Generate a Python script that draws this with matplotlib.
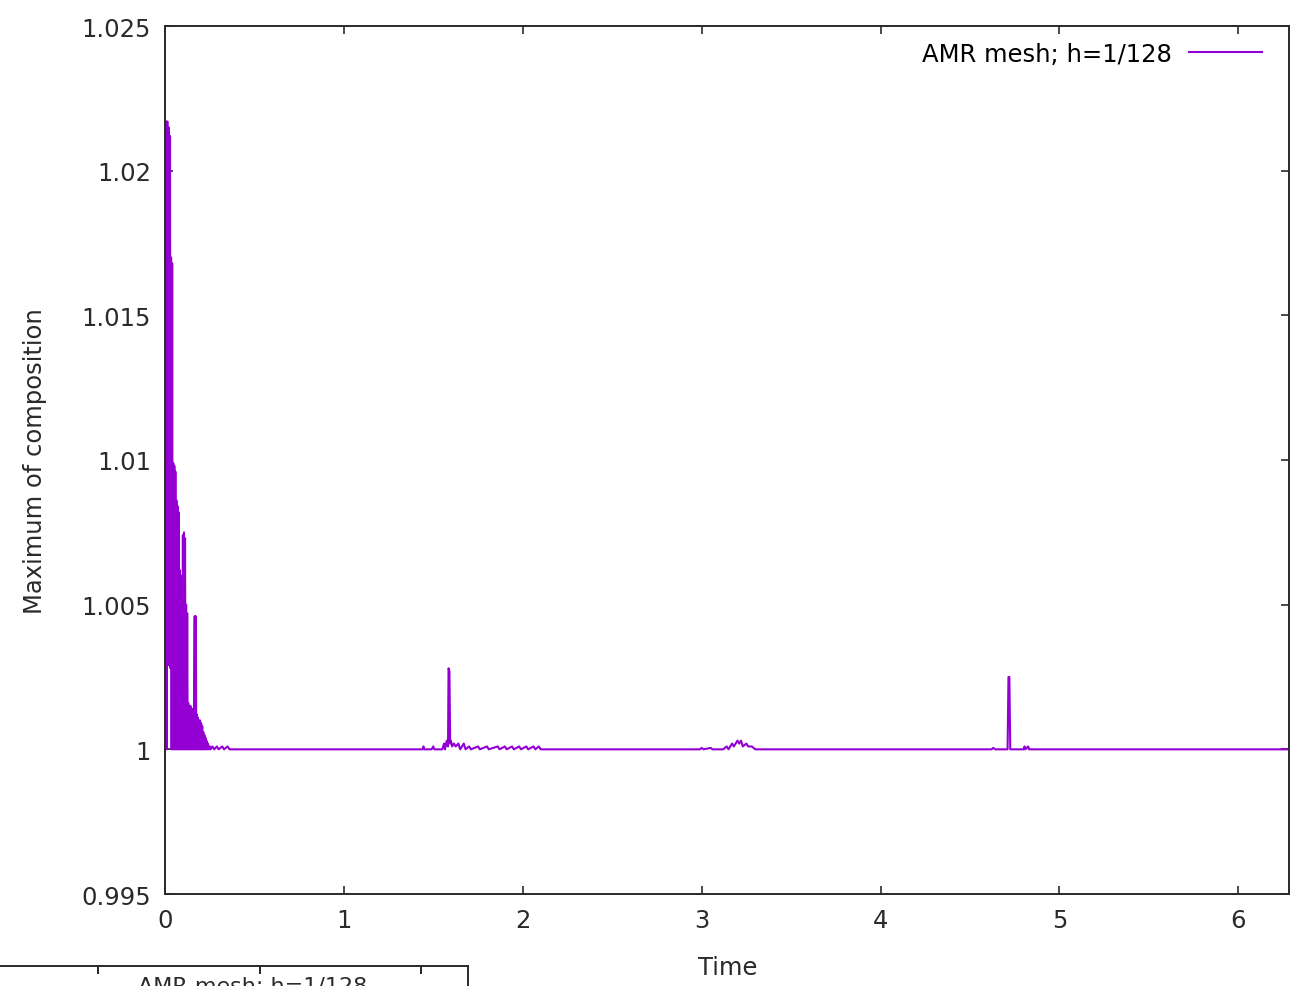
import matplotlib
matplotlib.use("Agg")
import matplotlib.pyplot as plt
import numpy as np

# time series: maximum of composition (AMR mesh, h=1/128)
t_early = [0.000, 0.004, 0.007, 0.010, 0.013, 0.016, 0.020, 0.024, 0.028, 0.031,
           0.034, 0.037, 0.040, 0.043, 0.046, 0.049, 0.052, 0.055, 0.058, 0.061,
           0.064, 0.067, 0.070, 0.073, 0.076, 0.079, 0.082, 0.085, 0.088, 0.091,
           0.094, 0.097, 0.100, 0.103, 0.106, 0.109, 0.112, 0.115, 0.118, 0.121,
           0.124, 0.127, 0.130, 0.133, 0.136, 0.139, 0.142, 0.145, 0.148, 0.151,
           0.154, 0.157, 0.160, 0.166, 0.169, 0.172, 0.175, 0.178, 0.181, 0.184,
           0.187, 0.190, 0.193, 0.196, 0.199, 0.202, 0.205, 0.208, 0.211, 0.214,
           0.217, 0.220, 0.223, 0.226, 0.229, 0.232, 0.235, 0.240, 0.245, 0.250,
           0.255, 0.265, 0.275, 0.290, 0.300, 0.320, 0.330, 0.350, 0.360]
v_early = [1.0000, 1.0000, 1.0217, 1.0000, 1.0217, 1.0030, 1.0215, 1.0029, 1.0212, 1.0028,
           1.0170, 1.0000, 1.0168, 1.0000, 1.0099, 1.0000, 1.0098, 1.0000, 1.0096, 1.0000,
           1.0086, 1.0000, 1.0084, 1.0000, 1.0082, 1.0000, 1.0062, 1.0000, 1.0060, 1.0000,
           1.0060, 1.0000, 1.0074, 1.0000, 1.0075, 1.0000, 1.0073, 1.0000, 1.0050, 1.0000,
           1.0047, 1.0000, 1.0016, 1.0000, 1.0015, 1.0000, 1.0015, 1.0000, 1.0014, 1.0000,
           1.0014, 1.0000, 1.0000, 1.0046, 1.0000, 1.0046, 1.0000, 1.0012, 1.0000, 1.0011,
           1.0000, 1.0010, 1.0000, 1.0010, 1.0000, 1.0009, 1.0000, 1.0008, 1.0000, 1.0006,
           1.0000, 1.0005, 1.0000, 1.0004, 1.0000, 1.0003, 1.0000, 1.0002, 1.0000, 1.0001,
           1.0000, 1.0001, 1.0000, 1.0001, 1.0000, 1.0001, 1.0000, 1.0001, 1.0000]

t_mid = [1.440, 1.445, 1.450, 1.490, 1.500, 1.505, 1.550, 1.560, 1.565, 1.575,
         1.582, 1.585, 1.590, 1.594, 1.598, 1.605, 1.615, 1.625, 1.640, 1.650,
         1.670, 1.680, 1.700, 1.710, 1.750, 1.760, 1.800, 1.810, 1.860, 1.870,
         1.900, 1.910, 1.940, 1.950, 1.980, 1.990, 2.020, 2.030, 2.060, 2.070,
         2.090, 2.100]
v_mid = [1.0000, 1.0001, 1.0000, 1.0000, 1.0001, 1.0000, 1.0000, 1.0002, 1.0000, 1.0003,
         1.0001, 1.0028, 1.0027, 1.0002, 1.0003, 1.0001, 1.0002, 1.0001, 1.0002, 1.0000,
         1.0002, 1.0000, 1.0001, 1.0000, 1.0001, 1.0000, 1.0001, 1.0000, 1.0001, 1.0000,
         1.0001, 1.0000, 1.0001, 1.0000, 1.0001, 1.0000, 1.0001, 1.0000, 1.0001, 1.0000,
         1.0001, 1.0000]

t_late = [2.990, 3.000, 3.010, 3.050, 3.060, 3.120, 3.140, 3.150, 3.170, 3.180,
          3.200, 3.210, 3.220, 3.230, 3.250, 3.260, 3.280, 3.300,
          4.620, 4.630, 4.640, 4.710, 4.715, 4.720, 4.725, 4.800, 4.805, 4.810,
          4.825, 4.830, 6.283]
v_late = [1.0000, 1.00005, 1.0000, 1.00005, 1.0000, 1.0000, 1.0001, 1.0000, 1.0002, 1.0001,
          1.0003, 1.0002, 1.0003, 1.0001, 1.0002, 1.0001, 1.0001, 1.0000,
          1.0000, 1.00005, 1.0000, 1.0000, 1.0025, 1.0025, 1.0000, 1.0000, 1.0001, 1.0000,
          1.0001, 1.0000, 1.0000]

time = np.array(t_early + t_mid + t_late)
cmax = np.array(v_early + v_mid + v_late)

x_ticks = [0, 1, 2, 3, 4, 5, 6]
y_ticks = [0.995, 1.0, 1.005, 1.01, 1.015, 1.02, 1.025]
y_labels = ["0.995", "1", "1.005", "1.01", "1.015", "1.02", "1.025"]

W, H = 1309, 987
fs = 17.5
ink = "#2a2a2a"
fig = plt.figure(figsize=(W / 100, H / 100), dpi=100)
ax = fig.add_axes([165 / W, 1 - 895 / H, (1289 - 165) / W, (895 - 27) / H])

ax.plot(time, cmax, color="#9400d3", lw=1.5, label="AMR mesh; h=1/128")

ax.set_xlim(0, 2 * np.pi)
ax.set_ylim(0.995, 1.025)
ax.set_xticks(x_ticks)
ax.set_yticks(y_ticks)
ax.set_yticklabels(y_labels)
ax.tick_params(direction="in", length=6, width=1.2, top=True, right=True,
               labelsize=fs, pad=10, colors=ink)
for s in ax.spines.values():
    s.set_linewidth(1.4)
    s.set_color(ink)

ax.legend(loc="upper right", bbox_to_anchor=(0.976, 0.982), frameon=False,
          markerfirst=False, fontsize=fs, handlelength=3.0, handletextpad=0.7,
          borderaxespad=0, borderpad=0)

fig.text(35 / W, 1 - 461 / H, "Maximum of composition", rotation=90,
         ha="center", va="center", fontsize=fs, color=ink)
fig.text(728 / W, 1 - 968 / H, "Time", ha="center", va="center",
         fontsize=fs, color=ink)

# part of the next plot, cut off at the bottom edge
ax2 = fig.add_axes([-0.05, -0.5, 468 / W + 0.05, 0.5 + 20 / H])
ax2.set_xlim(-0.05 * W, 468)
ax2.set_xticks([98, 260, 421])
ax2.set_yticks([])
ax2.tick_params(axis="x", direction="in", length=6, width=1.2, top=True,
                bottom=False, labelbottom=False, labeltop=False)
for s in ax2.spines.values():
    s.set_linewidth(1.4)
    s.set_color(ink)
fig.text(253 / W, 1 - 977 / H, "AMR mesh; h=1/128", ha="center", va="top",
         fontsize=16, color=ink)

fig.savefig("out.png", dpi=100)
